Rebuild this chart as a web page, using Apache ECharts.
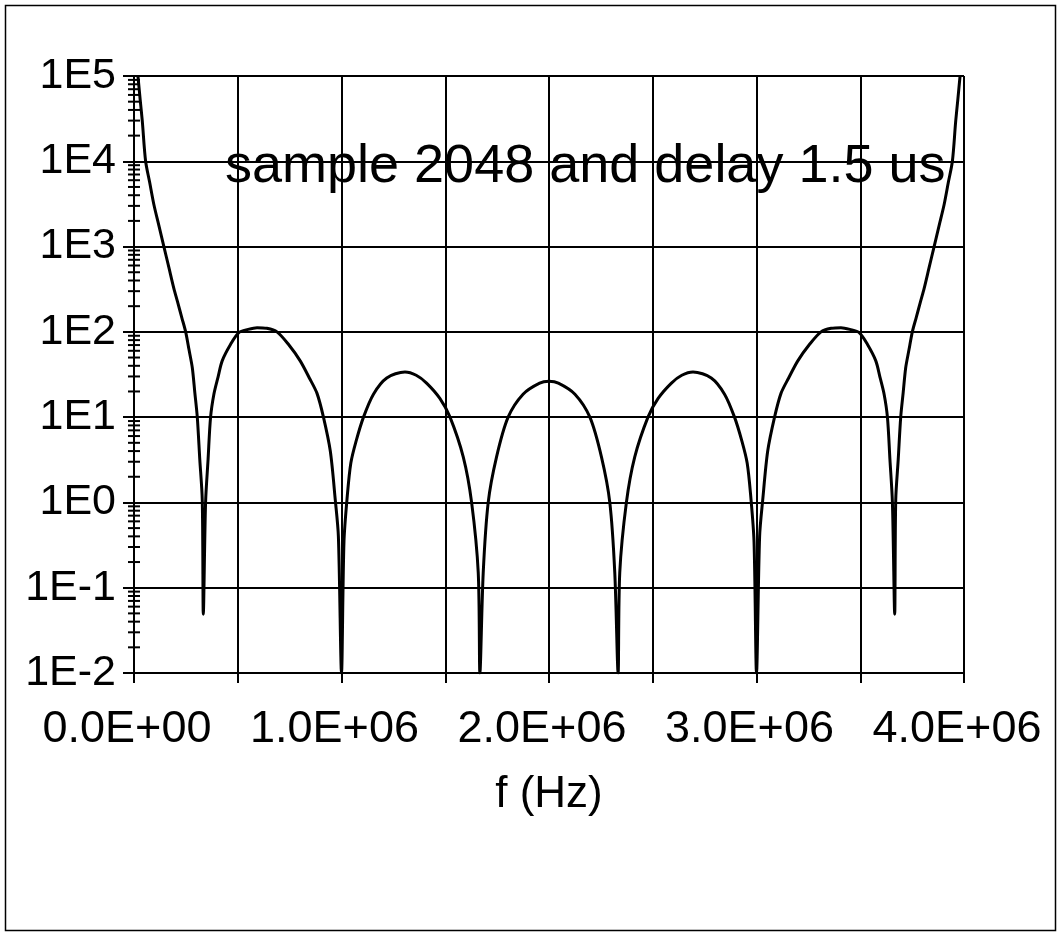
<!DOCTYPE html>
<html>
<head>
<meta charset="utf-8">
<script src="https://cdn.jsdelivr.net/npm/echarts@6/dist/echarts.min.js"></script>
<style>
html,body{margin:0;padding:0;background:#fff;}
#chart{width:1060px;height:936px;}
</style>
</head>
<body>
<div id="chart"></div>
<script>
// Frequency in MHz
const freqMHz = [
  0.019, 0.030, 0.040, 0.056, 0.075, 0.096, 0.120, 0.144, 0.168, 0.192,
  0.209, 0.230, 0.249, 0.265, 0.281, 0.293, 0.305, 0.317, 0.329, 0.334,
  0.345, 0.357, 0.369, 0.385, 0.405, 0.425, 0.465, 0.505, 0.550, 0.593,
  0.640, 0.689, 0.745, 0.801, 0.845, 0.882, 0.913, 0.946, 0.970, 0.985,
  1.000, 1.012, 1.028, 1.045, 1.070, 1.106, 1.154, 1.218, 1.306, 1.360,
  1.410, 1.474, 1.523, 1.587, 1.627, 1.659, 1.667, 1.683, 1.707, 1.747,
  1.803, 1.875, 1.955, 2.000,
  2.045, 2.125, 2.197, 2.253, 2.293, 2.317, 2.333, 2.341, 2.373, 2.413,
  2.477, 2.526, 2.590, 2.640, 2.694, 2.782, 2.846, 2.894, 2.930, 2.955,
  2.972, 2.988, 3.000, 3.015, 3.030, 3.054, 3.087, 3.118, 3.155, 3.199,
  3.255, 3.311, 3.360, 3.407, 3.450, 3.495, 3.535, 3.575, 3.595, 3.615,
  3.631, 3.643, 3.655, 3.666, 3.671, 3.683, 3.695, 3.707, 3.719, 3.735,
  3.751, 3.770, 3.791, 3.808, 3.832, 3.856, 3.880, 3.904, 3.925, 3.944,
  3.960, 3.970, 3.981
];
// Magnitude (log axis)
const magnitude = [
  100000, 52000, 29500, 10000, 5750, 3090, 1760, 1000, 570, 324,
  229, 148, 100, 62, 38, 19.5, 10, 3.2, 1.07, 0.049,
  1.0, 3.2, 10, 18.6, 29.5, 45.7, 71, 98, 107, 112,
  110, 100, 71, 45.7, 28.8, 19, 10, 4, 1.07, 0.4,
  0.01, 0.35, 1.2, 2.9, 5.2, 10, 18.6, 28.8, 33.9, 31,
  25.1, 16.6, 10, 3.4, 1.0, 0.15, 0.01, 0.15, 1.0, 3.4,
  10, 18.6, 25.1, 26.3,
  25.1, 18.6, 10, 3.4, 1.0, 0.15, 0.01, 0.15, 1.0, 3.4,
  10, 16.6, 25.1, 31, 33.9, 28.8, 18.6, 10, 5.2, 2.9,
  1.2, 0.35, 0.01, 0.4, 1.07, 4, 10, 19, 28.8, 45.7,
  71, 100, 110, 112, 107, 98, 71, 45.7, 29.5, 18.6,
  10, 3.2, 1.0, 0.049, 1.07, 3.2, 10, 19.5, 38, 62,
  100, 148, 229, 324, 570, 1000, 1760, 3090, 5750, 10000,
  29500, 52000, 100000
];
const xTickLabels = ['0.0E+00', '1.0E+06', '2.0E+06', '3.0E+06', '4.0E+06'];
const yTickLabels = ['1E-2', '1E-1', '1E0', '1E1', '1E2', '1E3', '1E4', '1E5'];
const xAxisTitle = 'f (Hz)';
const annotation = 'sample 2048 and delay 1.5 us';

const FONT = '"Liberation Sans", Arial, sans-serif';
const lineData = freqMHz.map((f, i) => [f * 1e6, magnitude[i]]);

const minorVals = [];
for (let e = -2; e < 5; e++) {
  for (let k = 2; k <= 9; k++) minorVals.push([0, k * Math.pow(10, e)]);
}

const chart = echarts.init(document.getElementById('chart'), null, {renderer: 'canvas'});
chart.setOption({
  animation: false,
  backgroundColor: '#fff',
  grid: {left: 134, right: 96, top: 76, bottom: 263, containLabel: false},
  xAxis: {
    type: 'value', min: 0, max: 4e6, interval: 5e5,
    name: xAxisTitle, nameLocation: 'middle', nameGap: 100,
    nameTextStyle: {fontFamily: FONT, fontSize: 44, color: '#000'},
    axisLine: {show: true, onZero: false, lineStyle: {color: '#000', width: 2}},
    axisTick: {show: true, length: 10, lineStyle: {color: '#000', width: 2}},
    axisLabel: {
      fontFamily: FONT, fontSize: 45, color: '#000', margin: 34,
      padding: [0, 14, 0, 0],
      formatter: v => {
        if (v % 1e6 !== 0) return '';
        return xTickLabels[Math.round(v / 1e6)];
      }
    },
    splitLine: {show: true, lineStyle: {color: '#000', width: 2}}
  },
  yAxis: {
    type: 'log', logBase: 10, min: 0.01, max: 1e5, splitNumber: 7,
    axisLine: {show: true, lineStyle: {color: '#000', width: 2}},
    axisTick: {show: true, length: 11, lineStyle: {color: '#000', width: 2}},
    axisLabel: {
      fontFamily: FONT, fontSize: 43, color: '#000', margin: 18,
      formatter: v => {
        const e = Math.round(Math.log10(v));
        return yTickLabels[e + 2];
      }
    },
    splitLine: {show: true, lineStyle: {color: '#000', width: 2}}
  },
  series: [
    {
      type: 'line', data: lineData, showSymbol: false, symbol: 'none',
      smooth: 0.3,
      lineStyle: {color: '#000', width: 3}, z: 3
    },
    {
      type: 'custom', data: minorVals, silent: true, clip: false, z: 4,
      renderItem: (params, api) => {
        const p = api.coord([api.value(0), api.value(1)]);
        return {
          type: 'line',
          shape: {x1: p[0] - 6, y1: p[1], x2: p[0] + 6, y2: p[1]},
          style: {stroke: '#000', lineWidth: 2}
        };
      }
    }
  ],
  graphic: [
    {
      type: 'rect', silent: true, z: 0,
      shape: {x: 5.5, y: 5.5, width: 1050, height: 925},
      style: {fill: 'none', stroke: '#000', lineWidth: 1.5}
    },
    {
      type: 'text', left: 225, top: 140, z: 10, silent: true,
      style: {text: annotation, font: '54px "Liberation Sans", Arial, sans-serif', fill: '#000'}
    }
  ]
});
</script>
</body>
</html>
